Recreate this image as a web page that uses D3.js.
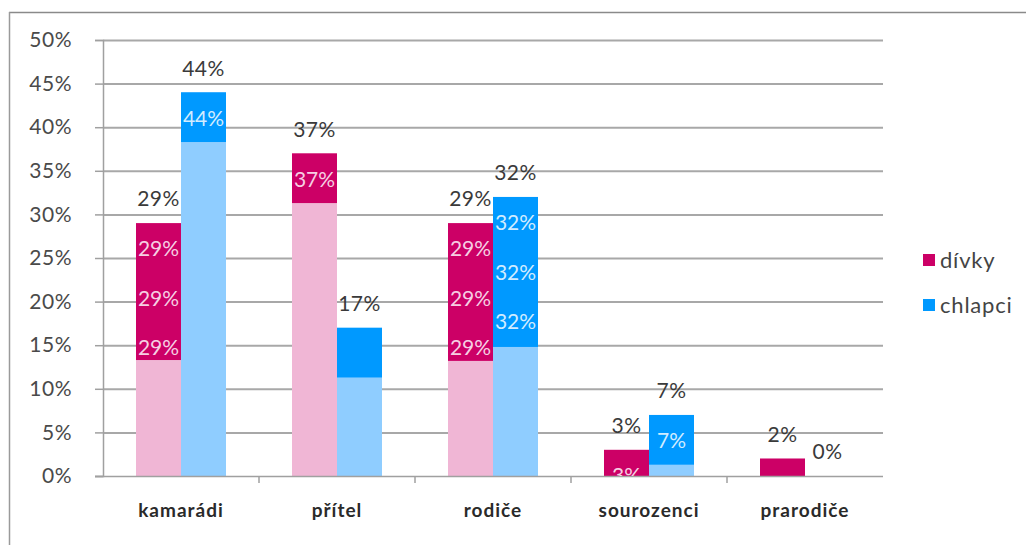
<!DOCTYPE html>
<html><head><meta charset="utf-8">
<script src="https://cdn.jsdelivr.net/npm/d3@7"></script>
<style>
body{margin:0;background:#fff;}
text{font-family:Lato,"Open Sans",sans-serif;}
</style></head>
<body><svg id="c" width="1026" height="545"></svg>
<script>
const categories = ["kamarádi","přítel","rodiče","sourozenci","prarodiče"];
const seriesNames = ["dívky","chlapci"];
const divky   = [0.29, 0.37, 0.29, 0.03, 0.02];
const chlapci = [0.44, 0.17, 0.32, 0.07, 0.00];
// level down to which each bar appears in the solid (dark) tone; below it the bar is pale
const divkySolidTo   = [0.133, 0.313, 0.132, 0, 0];
const chlapciSolidTo = [0.383, 0.113, 0.148, 0.013, 0];
// how many times the inner value label repeats inside each bar
const divkyInner   = [3, 1, 3, 1, 0];
const chlapciInner = [1, 0, 3, 1, 0];
const yTicks = [0,0.05,0.1,0.15,0.2,0.25,0.3,0.35,0.4,0.45,0.5];

const colors = {"dívky":{dark:"#cc0066",light:"#f0b6d5",txt:"#f6cfe3"},
                "chlapci":{dark:"#0099ff",light:"#8fcdff",txt:"#d2ecff"}};
const values = {"dívky":divky,"chlapci":chlapci};
const solidTo = {"dívky":divkySolidTo,"chlapci":chlapciSolidTo};
const inner = {"dívky":divkyInner,"chlapci":chlapciInner};

const svg = d3.select("#c");
// outer frame
svg.append("line").attr("x1",9).attr("x2",1026).attr("y1",12.5).attr("y2",12.5).attr("stroke","#8a8a8a").attr("stroke-width",1.5);
svg.append("line").attr("x1",9.5).attr("x2",9.5).attr("y1",12).attr("y2",545).attr("stroke","#9a9a9a").attr("stroke-width",1.5);

const L=103, R=883, T=40, B=476;
const y = d3.scaleLinear().domain([0,0.5]).range([B,T]);
const pad = 66/156;
const x0 = d3.scaleBand().domain(categories).range([L,R]).paddingInner(pad).paddingOuter(pad/2);
const x1 = d3.scaleBand().domain(seriesNames).range([0,x0.bandwidth()]);

// gridlines
const grid = svg.append("g").attr("transform",`translate(${L},0)`)
  .call(d3.axisLeft(y).tickValues(yTicks.slice(1)).tickSize(-(R-L)).tickFormat(""));
grid.select(".domain").remove();
grid.selectAll("line").attr("stroke","#a8a8a8").attr("stroke-width",2);

// y axis
const ya = svg.append("g").attr("transform",`translate(${L},0)`)
  .call(d3.axisLeft(y).tickValues(yTicks).tickSize(8).tickPadding(23).tickFormat(d=>Math.round(d*100)+"%"));
ya.select(".domain").attr("stroke","#a0a0a0").attr("stroke-width",1.5);
ya.selectAll("line").attr("stroke","#a0a0a0").attr("stroke-width",1.5);
ya.selectAll("text").attr("font-size",21).attr("fill","#4a4a4a").attr("letter-spacing",0.5);

// bars
const groups = svg.append("g").selectAll("g").data(categories).join("g")
  .attr("transform",c=>`translate(${x0(c)},0)`);
seriesNames.forEach(s=>{
  groups.append("rect").attr("x",x1(s)).attr("width",x1.bandwidth())
    .attr("y",(c,i)=>y(values[s][i])).attr("height",(c,i)=>y(0)-y(values[s][i]))
    .attr("fill",colors[s].light);
  groups.append("rect").attr("x",x1(s)).attr("width",x1.bandwidth())
    .attr("y",(c,i)=>y(values[s][i])).attr("height",(c,i)=>Math.max(0,y(solidTo[s][i])-y(values[s][i])))
    .attr("fill",colors[s].dark);
});

// x axis baseline
svg.append("line").attr("x1",95).attr("x2",R).attr("y1",B+0.5).attr("y2",B+0.5).attr("stroke","#a0a0a0").attr("stroke-width",1.5);
// category separators
categories.slice(1).forEach(c=>{
  const xb = x0(c) - x0.step()*pad/2;
  svg.append("line").attr("x1",xb).attr("x2",xb).attr("y1",B).attr("y2",B+7).attr("stroke","#a0a0a0").attr("stroke-width",1.5);
});
const xa = svg.append("g").attr("transform",`translate(0,${B})`)
  .call(d3.axisBottom(x0).tickSize(0).tickPadding(28));
xa.select(".domain").remove();
xa.selectAll("text").attr("font-size",19).attr("font-weight",700).attr("fill","#2a2a2a").attr("letter-spacing",1);

// inner labels
const clipDefs = svg.append("defs");
seriesNames.forEach(s=>{
  categories.forEach((c,i)=>{
    const v = values[s][i];
    const bx = x0(c)+x1(s), bw = x1.bandwidth();
    const id = "cl"+s.length+"_"+i;
    clipDefs.append("clipPath").attr("id",id).append("rect")
      .attr("x",bx).attr("y",y(v)).attr("width",bw).attr("height",y(0)-y(v));
    for(let k=0;k<inner[s][i];k++){
      svg.append("text").attr("clip-path",`url(#${id})`)
        .attr("x",bx+bw/2).attr("y",y(v)+26+k*49.5).attr("dy","0.35em")
        .attr("text-anchor","middle").attr("font-size",21).attr("fill",colors[s].txt)
        .text(Math.round(v*100)+"%");
    }
    svg.append("text").attr("x",bx+bw/2).attr("y",y(v)-24).attr("dy","0.35em")
      .attr("text-anchor","middle").attr("font-size",21).attr("fill","#3a3a3a").attr("letter-spacing",0.5)
      .text(Math.round(v*100)+"%");
  });
});

// legend
const lg = svg.append("g");
seriesNames.forEach((s,i)=>{
  const ly = 260 + i*45;
  lg.append("rect").attr("x",923).attr("y",ly-6).attr("width",12).attr("height",12).attr("fill",colors[s].dark);
  lg.append("text").attr("x",940).attr("y",ly).attr("dy","0.35em").attr("font-size",22).attr("fill","#444").attr("letter-spacing",0.8).text(s);
});
</script></body></html>
